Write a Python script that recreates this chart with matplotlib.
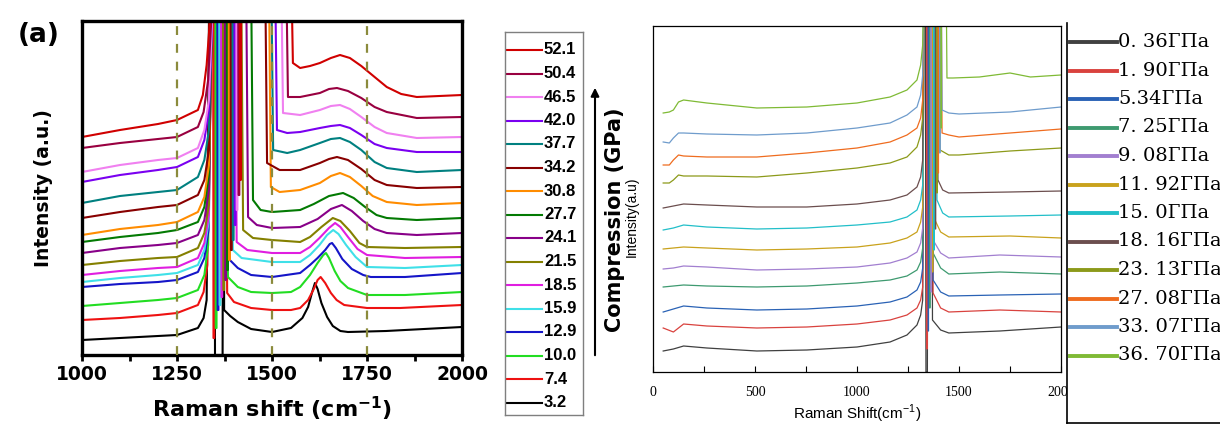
import matplotlib
matplotlib.use('Agg')
import matplotlib.pyplot as plt

# ---------------- panel (a): 1000-2000 cm-1, 16 pressures ----------------
left_gpa = ['3.2', '7.4', '10.0', '12.9', '15.9', '18.5', '21.5', '24.1',
            '27.7', '30.8', '34.2', '37.7', '42.0', '46.5', '50.4', '52.1']

# stacked intensities (a.u.); 420 = off the top of the plot
left_x = [
    [1000, 1100, 1200, 1250, 1305, 1320, 1328, 1336, 1348, 1350, 1370, 1372, 1374, 1390, 1410, 1445, 1500, 1550, 1580, 1595, 1605, 1613, 1620, 1630, 1645, 1660, 1680, 1700, 1800, 1900, 2000],
    [1000, 1100, 1200, 1250, 1305, 1320, 1330, 1338, 1345, 1346, 1348, 1349, 1376, 1382, 1400, 1445, 1500, 1550, 1574, 1595, 1610, 1620, 1628, 1640, 1655, 1670, 1690, 1750, 1837, 2000],
    [1000, 1100, 1200, 1250, 1305, 1322, 1332, 1340, 1351, 1352, 1354, 1355, 1378, 1384, 1410, 1445, 1500, 1550, 1574, 1600, 1620, 1635, 1642, 1650, 1665, 1680, 1700, 1750, 1850, 2000],
    [1000, 1100, 1200, 1250, 1305, 1322, 1333, 1341, 1356, 1357, 1359, 1360, 1383, 1389, 1410, 1445, 1500, 1574, 1600, 1620, 1640, 1652, 1658, 1668, 1685, 1710, 1740, 1760, 1850, 2000],
    [1000, 1100, 1200, 1250, 1305, 1322, 1334, 1342, 1361, 1362, 1364, 1365, 1391, 1397, 1420, 1500, 1574, 1600, 1625, 1645, 1661, 1675, 1695, 1720, 1750, 1850, 2000],
    [1000, 1100, 1200, 1250, 1305, 1322, 1334, 1343, 1366, 1367, 1369, 1370, 1401, 1407, 1435, 1500, 1574, 1600, 1625, 1650, 1666, 1680, 1700, 1725, 1750, 1850, 2000],
    [1000, 1100, 1200, 1250, 1305, 1322, 1334, 1344, 1371, 1372, 1374, 1375, 1418, 1424, 1450, 1500, 1574, 1600, 1630, 1660, 1680, 1705, 1730, 1750, 1850, 2000],
    [1000, 1100, 1200, 1250, 1305, 1322, 1334, 1345, 1376, 1377, 1379, 1380, 1431, 1437, 1460, 1500, 1574, 1620, 1655, 1684, 1710, 1740, 1770, 1802, 1881, 2000],
    [1000, 1100, 1200, 1250, 1305, 1322, 1334, 1346, 1381, 1382, 1384, 1385, 1444, 1450, 1470, 1500, 1574, 1610, 1650, 1687, 1715, 1745, 1775, 1802, 1881, 2000],
    [1000, 1100, 1200, 1250, 1305, 1322, 1334, 1347, 1386, 1387, 1389, 1390, 1491, 1497, 1520, 1574, 1626, 1655, 1679, 1705, 1735, 1765, 1802, 1881, 2000],
    [1000, 1100, 1200, 1250, 1305, 1322, 1334, 1348, 1391, 1392, 1394, 1395, 1481, 1487, 1520, 1574, 1626, 1650, 1671, 1700, 1735, 1770, 1802, 1881, 2000],
    [1000, 1100, 1200, 1250, 1305, 1322, 1334, 1349, 1396, 1397, 1399, 1400, 1497, 1503, 1540, 1574, 1626, 1655, 1679, 1705, 1735, 1770, 1802, 1881, 2000],
    [1000, 1100, 1200, 1250, 1305, 1322, 1334, 1350, 1401, 1402, 1404, 1405, 1507, 1513, 1540, 1574, 1626, 1655, 1679, 1705, 1735, 1770, 1802, 1881, 2000],
    [1000, 1100, 1200, 1250, 1305, 1322, 1334, 1351, 1406, 1407, 1409, 1410, 1523, 1529, 1574, 1626, 1655, 1679, 1705, 1735, 1770, 1802, 1881, 2000],
    [1000, 1100, 1200, 1250, 1305, 1320, 1332, 1352, 1411, 1412, 1414, 1415, 1536, 1542, 1574, 1626, 1650, 1671, 1700, 1735, 1770, 1802, 1881, 2000],
    [1000, 1100, 1200, 1250, 1305, 1318, 1328, 1353, 1415, 1416, 1418, 1419, 1549, 1555, 1574, 1600, 1626, 1655, 1679, 1705, 1735, 1770, 1802, 1840, 1881, 2000],
]
left_y = [
    [15, 17, 19, 20, 27, 37, 55, 420, 420, 0, 0, 420, 45, 39, 33, 26, 23, 27, 37, 48, 62, 72, 66, 52, 38, 29, 24, 23, 24, 26, 28],
    [35, 37, 40, 42, 50, 63, 90, 420, 420, 17, 17, 420, 420, 62, 53, 47, 45, 45, 47, 55, 66, 75, 78, 72, 62, 55, 50, 47, 47, 50],
    [49, 52, 55, 57, 65, 80, 110, 420, 420, 27, 27, 420, 420, 78, 68, 63, 62, 63, 68, 80, 92, 100, 102, 97, 84, 74, 67, 60, 60, 63],
    [68, 71, 73, 75, 83, 97, 125, 420, 420, 45, 45, 420, 420, 95, 87, 80, 78, 82, 90, 97, 105, 111, 112, 107, 96, 86, 80, 78, 78, 82],
    [73, 77, 80, 82, 90, 105, 135, 420, 420, 50, 50, 420, 420, 105, 97, 93, 93, 100, 110, 120, 125, 121, 110, 98, 88, 87, 90],
    [80, 84, 87, 88, 97, 112, 140, 420, 420, 58, 58, 420, 420, 113, 105, 102, 102, 108, 117, 127, 132, 128, 118, 106, 100, 97, 98],
    [90, 94, 97, 98, 107, 122, 150, 420, 420, 65, 65, 420, 420, 125, 117, 115, 113, 118, 128, 137, 134, 124, 112, 108, 107, 108],
    [102, 107, 110, 112, 120, 135, 165, 420, 420, 75, 75, 420, 420, 138, 130, 127, 128, 136, 146, 150, 144, 134, 126, 122, 120, 122],
    [113, 118, 122, 125, 133, 148, 180, 420, 420, 85, 85, 420, 420, 155, 145, 143, 145, 151, 159, 162, 157, 148, 140, 137, 135, 137],
    [120, 126, 130, 133, 143, 158, 190, 420, 420, 95, 95, 420, 420, 168, 163, 165, 172, 179, 182, 178, 169, 159, 153, 150, 152],
    [137, 143, 148, 150, 160, 175, 205, 420, 420, 105, 105, 420, 420, 192, 185, 185, 192, 196, 198, 195, 186, 175, 170, 167, 168],
    [152, 159, 163, 165, 178, 195, 225, 420, 420, 115, 115, 420, 420, 205, 202, 205, 212, 216, 217, 213, 205, 193, 187, 183, 185],
    [173, 180, 185, 188, 198, 215, 245, 420, 420, 130, 130, 420, 420, 225, 222, 223, 227, 229, 230, 227, 220, 211, 207, 203, 203],
    [183, 190, 195, 197, 207, 225, 255, 420, 420, 145, 145, 420, 420, 242, 240, 245, 249, 250, 246, 238, 228, 222, 217, 218],
    [207, 212, 216, 218, 228, 243, 275, 420, 420, 160, 160, 420, 420, 258, 258, 262, 266, 267, 264, 257, 248, 243, 237, 238],
    [218, 225, 231, 235, 245, 260, 290, 420, 420, 175, 175, 420, 420, 292, 287, 289, 292, 297, 300, 297, 289, 278, 268, 261, 258, 260],
]
guide_lines = [1250, 1500, 1750]

# ---------------- right panel: 0-2000 cm-1, 12 pressures ----------------
right_gpa = ['0. 36ГПа', '1. 90ГПа', '5.34ГПа', '7. 25ГПа', '9. 08ГПа', '11. 92ГПа',
             '15. 0ГПа', '18. 16ГПа', '23. 13ГПа', '27. 08ГПа', '33. 07ГПа', '36. 70ГПа']

_base = [50, 100, 150, 264, 509, 754, 1000, 1162, 1245, 1294, 1312, 1322]
_base2 = [50, 80, 100, 125, 150, 264, 509, 754, 1000, 1162, 1245, 1294, 1312, 1322]
right_x = [
    _base + [1328, 1335, 1338, 1345, 1348, 1365, 1370, 1410, 1450, 1700, 2000],
    _base + [1330, 1342, 1342.5, 1343.5, 1344, 1368, 1373, 1410, 1450, 1700, 2000],
    _base + [1330, 1349, 1349.5, 1350.5, 1351, 1368, 1373, 1410, 1450, 1700, 2000],
    _base + [1330, 1356, 1356.5, 1357.5, 1358, 1368, 1373, 1410, 1450, 1700, 2000],
    _base + [1330, 1363, 1363.5, 1364.5, 1365, 1368, 1373, 1410, 1450, 1700, 2000],
    _base + [1330, 1370, 1370.5, 1371.5, 1372, 1377, 1382, 1410, 1450, 1750, 2000],
    _base + [1330, 1377, 1377.5, 1378.5, 1379, 1387, 1392, 1420, 1450, 1750, 2000],
    _base + [1330, 1384, 1384.5, 1385.5, 1386, 1392, 1397, 1420, 1450, 1750, 2000],
    _base2 + [1330, 1391, 1391.5, 1392.5, 1393, 1402, 1407, 1450, 1500, 1750, 2000],
    _base2 + [1330, 1398, 1398.5, 1399.5, 1400, 1412, 1417, 1450, 1500, 1750, 2000],
    _base2 + [1330, 1405, 1405.5, 1406.5, 1407, 1412, 1417, 1450, 1500, 1750, 2000],
    _base2 + [1330, 1412, 1412.5, 1413.5, 1414, 1436, 1441, 1470, 1600, 1750, 1850, 2000],
]
right_y = [
    [21, 23, 26, 24, 21, 22, 25, 30, 37, 47, 57, 72, 420, 420, 0, 0, 420, 420, 52, 42, 39, 41, 45],
    [44, 40, 48, 46, 44, 45, 48, 52, 57, 64, 72, 85, 420, 420, 23, 23, 420, 420, 79, 64, 60, 62, 60],
    [60, 63, 66, 64, 62, 63, 66, 70, 75, 82, 90, 104, 420, 420, 41, 41, 420, 420, 92, 80, 76, 77, 78],
    [85, 86, 87, 86, 85, 86, 89, 92, 96, 102, 110, 124, 420, 420, 64, 64, 420, 420, 119, 104, 98, 100, 98],
    [103, 104, 106, 105, 102, 103, 105, 109, 114, 120, 129, 144, 420, 420, 80, 80, 420, 420, 132, 119, 114, 117, 115],
    [123, 124, 125, 124, 122, 123, 125, 129, 134, 140, 150, 165, 420, 420, 100, 100, 420, 420, 152, 140, 135, 136, 134],
    [142, 144, 147, 145, 143, 144, 147, 150, 155, 162, 172, 187, 420, 420, 122, 122, 420, 420, 172, 159, 155, 156, 157],
    [164, 166, 168, 167, 165, 165, 168, 172, 177, 185, 195, 212, 420, 420, 143, 143, 420, 420, 192, 182, 179, 180, 181],
    [189, 189, 192, 197, 196, 196, 195, 199, 204, 209, 215, 225, 237, 254, 420, 420, 179, 179, 420, 420, 222, 217, 217, 221, 224],
    [207, 207, 212, 217, 216, 215, 215, 219, 224, 230, 237, 244, 254, 272, 420, 420, 199, 199, 420, 420, 239, 237, 235, 239, 243],
    [230, 229, 234, 239, 239, 238, 237, 239, 244, 249, 257, 265, 277, 297, 420, 420, 219, 219, 420, 420, 262, 259, 258, 260, 265],
    [259, 260, 262, 270, 272, 269, 264, 265, 269, 275, 282, 292, 307, 327, 420, 420, 244, 244, 420, 420, 294, 294, 295, 299, 295, 297],
]

# colours
left_colors = ['#000000', '#ee1111', '#22dd22', '#1515c8', '#3fe0e8', '#e01ee0', '#848000', '#880088',
               '#037a03', '#ff8c00', '#880000', '#008080', '#7a00f0', '#f080f0', '#990040', '#d00000']
right_colors = ['#404040', '#d9423e', '#2a62b5', '#3e9a70', '#a27fd0', '#c9a21c',
                '#22bfc9', '#6b4e4e', '#8c9a1a', '#ef6c1f', '#6f9ccc', '#7fba35']

plt.rcParams['mathtext.fontset'] = 'custom'
plt.rcParams['mathtext.rm'] = 'Liberation Sans'
plt.rcParams['mathtext.bf'] = 'DejaVu Sans:bold'

W, H = 1220, 426
def fx(px): return px / W
def fy(py): return 1 - py / H

fig = plt.figure(figsize=(W / 100, H / 100), dpi=100)

# ---- panel (a) ----
ax1 = fig.add_axes([fx(82), fy(355), 380 / W, 334 / H])
for x, y, c in zip(left_x, left_y, left_colors):
    ax1.plot(x, y, color=c, lw=1.5)
for v in guide_lines:
    ax1.axvline(v, color='#8b8b3c', lw=1.6, ls=(0, (4, 4)), zorder=3)
ax1.set_xlim(1000, 2000)
ax1.set_ylim(0, 334)
ax1.set_xticks(range(1000, 2001, 250))
ax1.set_xticks(range(1125, 2000, 250), minor=True)
ax1.set_yticks([])
ax1.tick_params(axis='x', which='both', direction='out', length=4, width=2, pad=3, labelsize=13.5)
for t in ax1.get_xticklabels():
    t.set_fontweight('bold')
    t.set_family('DejaVu Sans')
for s in ax1.spines.values():
    s.set_linewidth(2.4)
ax1.set_xlabel(r'Raman shift (cm$^{\mathbf{-1}}$)', fontsize=16, fontweight='bold', family='DejaVu Sans')
ax1.xaxis.set_label_coords(0.5, -0.12)
ax1.set_ylabel('Intensity (a.u.)', fontsize=13.5, fontweight='bold', family='DejaVu Sans')
ax1.yaxis.set_label_coords(-0.076, 0.5)
fig.text(fx(39), fy(35), '(a)', fontsize=19, fontweight='bold', family='DejaVu Sans',
         ha='center', va='center')

# legend box of panel (a)
lg1 = fig.add_axes([fx(505), fy(415), 78 / W, 383 / H])
lg1.set_xlim(0, 78)
lg1.set_ylim(383, 0)
lg1.set_xticks([])
lg1.set_yticks([])
for s in lg1.spines.values():
    s.set_color('#7f7f7f')
    s.set_linewidth(1)
for i, (lab, c) in enumerate(zip(left_gpa[::-1], left_colors[::-1])):
    yy = 18 + i * 23.5
    lg1.plot([0, 37], [yy, yy], color=c, lw=1.5)
    lg1.text(39, yy, lab, va='center', ha='left', fontsize=12, fontweight='bold',
             family='Liberation Sans')

# compression arrow
ax1.annotate('', xy=(fx(595), fy(85)), xytext=(fx(595), fy(358)), xycoords='figure fraction',
             arrowprops=dict(arrowstyle='-|>', color='black', lw=1.5, mutation_scale=12),
             annotation_clip=False)
fig.text(fx(615), fy(220), 'Compression (GPa)', rotation=90, fontsize=15, fontweight='bold',
         family='DejaVu Sans', ha='center', va='center')

# ---- right panel ----
ax2 = fig.add_axes([fx(653), fy(372), 408 / W, 346 / H])
for x, y, c in zip(right_x, right_y, right_colors):
    ax2.plot(x, y, color=c, lw=0.9)
ax2.set_xlim(0, 2000)
ax2.set_ylim(0, 346)
ax2.set_xticks([0, 500, 1000, 1500, 2000])
ax2.set_xticks([250, 750, 1250, 1750], minor=True)
ax2.set_yticks([])
ax2.tick_params(axis='x', which='both', direction='in', length=4, width=0.8, pad=10, labelsize=10)
for t in ax2.get_xticklabels():
    t.set_family('Liberation Serif')
for s in ax2.spines.values():
    s.set_linewidth(0.9)
ax2.set_xlabel(r'Raman Shift(cm$^{\mathrm{-1}}$)', fontsize=11, family='Liberation Sans')
ax2.xaxis.set_label_coords(0.5, -0.09)
ax2.set_ylabel('Intensity(a.u)', fontsize=10, family='Liberation Sans')
ax2.yaxis.set_label_coords(-0.034, 0.45)

# legend box of the right panel (runs off the right edge)
lg2 = fig.add_axes([fx(1067), fy(423), 170 / W, 400 / H])
lg2.set_xlim(0, 170)
lg2.set_ylim(400, 0)
lg2.set_xticks([])
lg2.set_yticks([])
lg2.spines['top'].set_visible(False)
lg2.spines['right'].set_visible(False)
for k in ['left', 'bottom']:
    lg2.spines[k].set_linewidth(1.2)
for i, (lab, c) in enumerate(zip(right_gpa, right_colors)):
    yy = 19 + i * 28.5
    lg2.plot([3, 50], [yy, yy], color=c, lw=2.8)
    lg2.text(51, yy, lab, va='center', ha='left', fontsize=14, family='DejaVu Serif')

fig.savefig('out.png', dpi=100)
